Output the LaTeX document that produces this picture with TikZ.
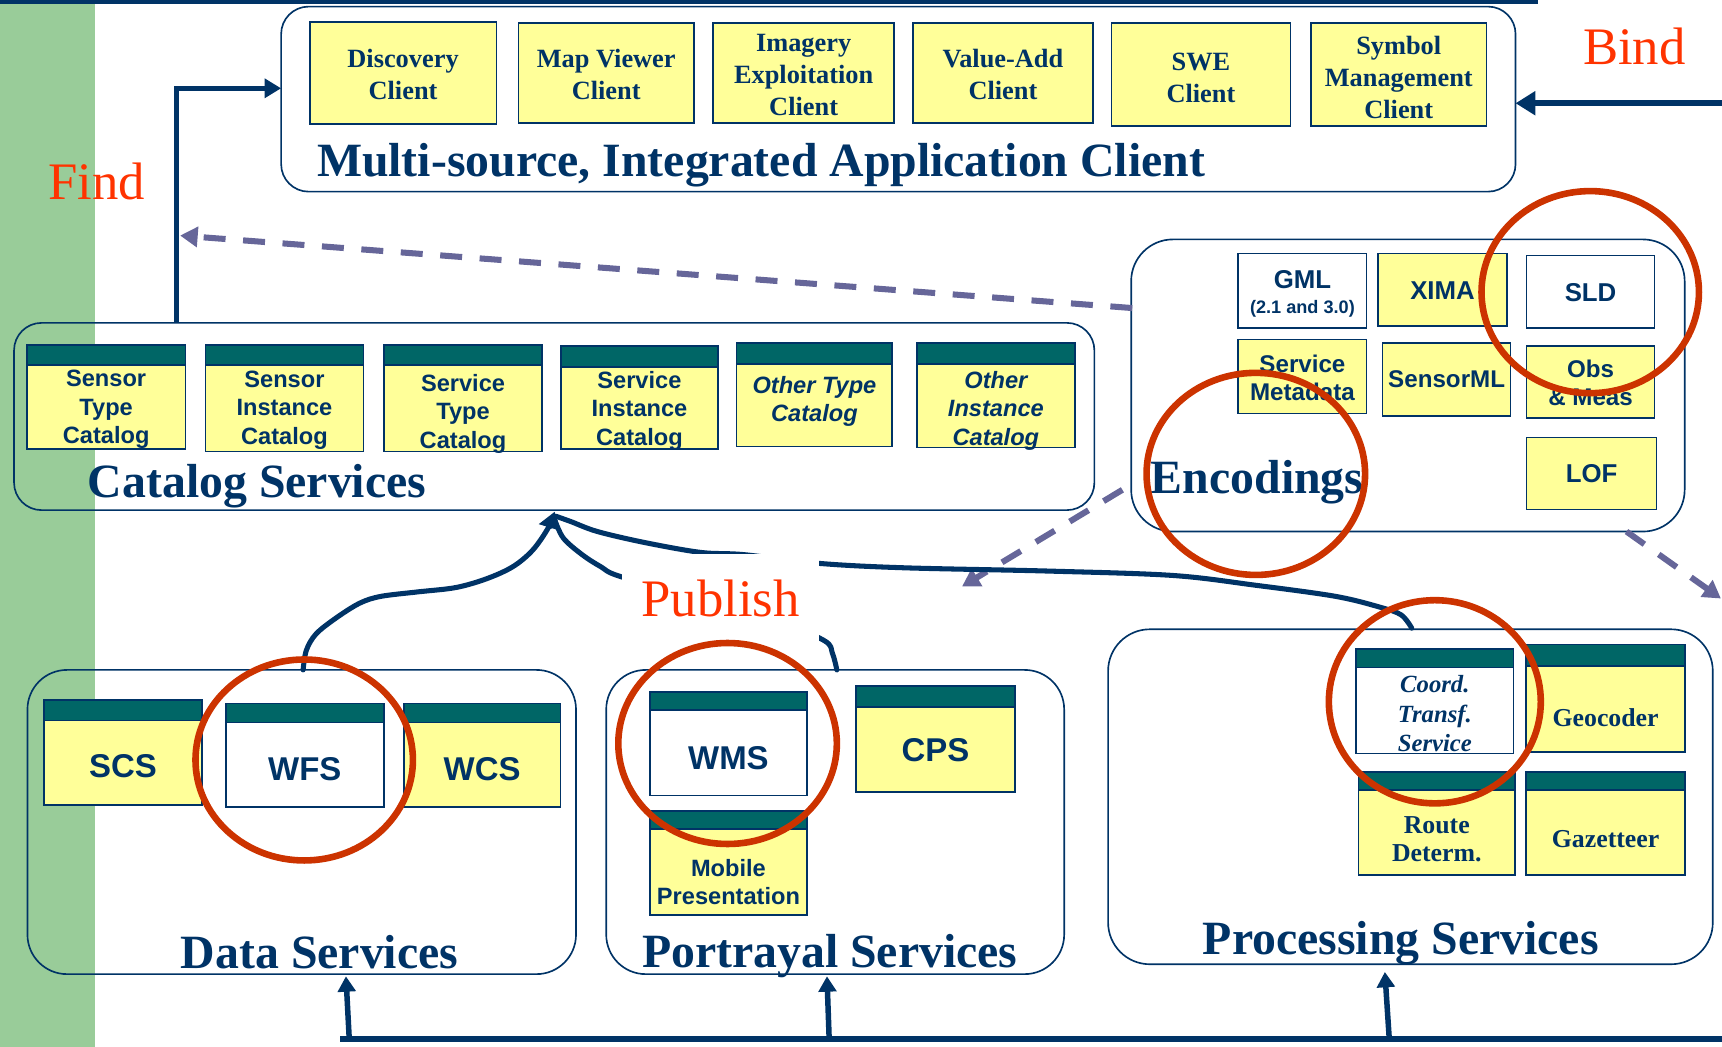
\documentclass[tikz,border=0pt]{standalone}
\usepackage{fontspec}
\setmainfont{Liberation Serif}
\setsansfont{Liberation Sans}
\usetikzlibrary{arrows.meta,calc,shapes.geometric}

\definecolor{navy}{RGB}{0,51,102}
\definecolor{boxyellow}{RGB}{255,255,153}
\definecolor{hdrteal}{RGB}{0,102,102}
\definecolor{stripgreen}{RGB}{153,204,153}
\definecolor{dashpurple}{RGB}{102,102,153}
\definecolor{ringred}{RGB}{204,51,0}
\definecolor{labelred}{RGB}{255,51,0}

\newcommand\fntclient{\fontsize{24}{29}\selectfont\bfseries}
\newcommand\fnttitle{\fontsize{43.5}{48}\selectfont\bfseries}
\newcommand\fntverb{\fontsize{48}{52}\selectfont}
\newcommand\fntcat{\fontsize{21.5}{26}\selectfont\sffamily\bfseries}
\newcommand\fntcatit{\fontsize{21.5}{26}\selectfont\sffamily\bfseries\itshape}
\newcommand\fntbig{\fontsize{30}{34}\selectfont\sffamily\bfseries}
\newcommand\fntenc{\fontsize{22}{25.5}\selectfont\sffamily\bfseries}
\newcommand\fntencbig{\fontsize{23.5}{26}\selectfont\sffamily\bfseries}
\newcommand\fntproc{\fontsize{23.5}{26}\selectfont\bfseries}
\newcommand\fntcoord{\fontsize{22.5}{27}\selectfont\bfseries\itshape}

% box with a teal title bar: name, left, bar top, body top, right, bottom, style, text shift, text
\newcommand\svcbox[9]{%
  \node[hdr, anchor=north west, minimum width={(#5-#2)*1pt}, minimum height={(#4-#3)*1pt}] (#1-hd) at (#2,#3) {};
  \node[#7, anchor=north west, minimum width={(#5-#2)*1pt}, minimum height={(#6-#4)*1pt}] (#1) at (#2,#4) {};
  \node[#7, draw=none, fill=none] (#1-tx) at ($(#1.center)+(0,#8)$) {#9};
}
% plain box: name, left, top, right, bottom, style, text shift, text
\newcommand\plainbox[8]{%
  \node[#6, anchor=north west, minimum width={(#4-#2)*1pt}, minimum height={(#5-#3)*1pt}] (#1) at (#2,#3) {};
  \node[#6, draw=none, fill=none] (#1-tx) at ($(#1.center)+(0,#7)$) {#8};
}

\tikzset{
  every node/.style={inner sep=0pt, outer sep=0pt},
  ybox/.style={draw=navy, line width=1.5pt, fill=boxyellow, text=navy, align=center},
  wbox/.style={ybox, fill=white},
  hdr/.style={draw=navy, line width=1.5pt, fill=hdrteal},
  container/.style={draw=navy, line width=1.5pt, anchor=north west},
  title/.style={text=navy, font=\fnttitle},
  verb/.style={text=labelred, font=\fntverb},
  navyline/.style={draw=navy, line width=4.5pt},
  pubcurve/.style={draw=navy, line width=4.6pt, line cap=round, line join=round},
  dasharrow/.style={draw=dashpurple, line width=5.5pt, dash pattern=on 20pt off 16pt,
    -{Triangle[length=16pt,width=18pt]}},
  busarrow/.style={draw=navy, line width=5pt, -{Triangle[length=14pt,width=16pt]}},
  ring/.style={ellipse, draw=ringred, line width=6pt},
}

\begin{document}
\begin{tikzpicture}[x=1pt, y=-1pt]
\useasboundingbox (0,0) rectangle (1568,953);

% side strip and top rule
\fill[stripgreen] (0,0) rectangle (86.5,953);
\fill[navy] (0,0) rectangle (1400,4);

% group frames
\node[container, rounded corners=25pt, minimum width=1124pt, minimum height=168.5pt] (clients) at (256,6) {};
\node[container, rounded corners=25pt, minimum width=983.7pt, minimum height=170.5pt] (catalogs) at (12.8,294) {};
\node[container, rounded corners=38pt, minimum width=504pt, minimum height=266pt] (encodings) at (1030,218) {};
\node[container, rounded corners=36pt, minimum width=499.5pt, minimum height=277pt] (datasvc) at (25,610) {};
\node[container, rounded corners=36pt, minimum width=417pt, minimum height=277pt] (portrayal) at (552,610) {};
\node[container, rounded corners=38pt, minimum width=550.6pt, minimum height=305pt] (processing) at (1009,573) {};

% clients
\plainbox{discovery}{282}{20}{452}{113}{ybox,font=\fntclient}{1}{Discovery\\Client}
\plainbox{mapviewer}{472}{21}{632}{112}{ybox,font=\fntclient}{1}{Map Viewer\\Client}
\plainbox{imagery}{649.5}{21}{814}{112}{ybox,font=\fntclient}{1.5}{Imagery\\Exploitation\\Client}
\plainbox{valueadd}{831.5}{21}{995}{112}{ybox,font=\fntclient}{1.5}{Value-Add\\Client}
\plainbox{swe}{1012}{21}{1175}{114.5}{ybox,font=\fntclient}{3}{SWE\\Client}
\plainbox{symbol}{1193.6}{21}{1353.7}{114.5}{ybox,font=\fntclient}{3}{Symbol\\Management\\Client}

% catalogs
\svcbox{senstype}{24.3}{314}{332.4}{169}{409}{ybox,font=\fntcat}{2}{Sensor\\Type\\Catalog}
\svcbox{sensinst}{187}{314}{332.4}{331}{411}{ybox,font=\fntcat}{1.5}{Sensor\\Instance\\Catalog}
\svcbox{servtype}{349.4}{314}{332.4}{493.8}{411}{ybox,font=\fntcat}{5}{Service\\Type\\Catalog}
\svcbox{servinst}{511}{315}{334}{653.5}{409}{ybox,font=\fntcat}{2.5}{Service\\Instance\\Catalog}
\svcbox{othertype}{670.7}{312.6}{331.5}{812.5}{406.7}{ybox,font=\fntcatit}{-3.5}{Other Type\\Catalog}
\svcbox{otherinst}{835}{312.6}{331.5}{978.6}{407.6}{ybox,font=\fntcatit}{4.5}{Other\\Instance\\Catalog}

% encodings
\plainbox{gml}{1127.5}{230.7}{1244.4}{298.4}{wbox,font=\fntencbig}{3}{GML\\[-3pt]{\fontsize{16.5}{19}\selectfont(2.1 and 3.0)}}
\plainbox{xima}{1255}{230.7}{1372}{296.9}{ybox,font=\fntencbig}{1}{XIMA}
\plainbox{sld}{1390}{232.8}{1506.6}{298.4}{wbox,font=\fntencbig}{1}{SLD}
\plainbox{srvmeta}{1127.5}{309}{1244.4}{376.4}{ybox,font=\fntenc}{1}{Service\\Metadata}
\plainbox{sensorml}{1259}{312.6}{1375.5}{378.5}{ybox,font=\fntenc}{0}{SensorML}
\plainbox{obsmeas}{1390}{314.8}{1506.6}{380.4}{ybox,font=\fntenc}{1}{Obs\\\& Meas}
\plainbox{lof}{1390}{398.5}{1508.4}{463.8}{ybox,font=\fntencbig}{0}{LOF}

% data services
\svcbox{scs}{40}{637.5}{656}{184}{733}{ybox,font=\fntbig}{3}{SCS}
\svcbox{wfs}{205.6}{640.5}{658}{349.5}{735}{wbox,font=\fntbig}{4}{WFS}
\svcbox{wcs}{367.6}{640.5}{658}{510.5}{735}{ybox,font=\fntbig}{4}{WCS}

% portrayal services
\svcbox{wms}{592}{630}{646.5}{734.6}{724.5}{wbox,font=\fntbig}{5}{WMS}
\svcbox{cps}{779.5}{624.4}{643.5}{924.3}{721}{ybox,font=\fntbig}{1}{CPS}
\svcbox{mobile}{592}{738.5}{755}{734.6}{833}{ybox,font=\fntcat}{9}{Mobile\\Presentation}

% processing services
\svcbox{coord}{1235}{591}{607.7}{1378}{686}{wbox,font=\fntcoord}{3}{Coord.\\Transf.\\Service}
\svcbox{geocoder}{1389.7}{587}{606.5}{1534.3}{684.5}{ybox,font=\fntproc}{8}{Geocoder}
\svcbox{route}{1237}{702.7}{719.4}{1379.6}{796.8}{ybox,font=\fntproc}{6}{Route\\Determ.}
\svcbox{gazetteer}{1389.7}{702.7}{719.4}{1534.3}{796.8}{ybox,font=\fntproc}{6}{Gazetteer}

% group titles
\node[title, anchor=base west] (clienttitle) at (288.7,161) {Multi-source, Integrated Application Client};
\node[title, anchor=base west] (catalogtitle) at (80,453) {Catalog Services};
\node[title, anchor=base west] (enctitle) at (1048,449) {Encodings};
\node[title, anchor=base] (datatitle) at (291,882) {Data Services};
\node[title, anchor=base] (portrtitle) at (755.5,881) {Portrayal Services};
\node[title, anchor=base] (proctitle) at (1275.5,869) {Processing Services};

% find / bind
\coordinate (findfoot) at ($(catalogs.north west)+(147.7,0)$);
\coordinate (findhead) at ($(clients.north west)+(0,74.4)$);
\draw[navyline, -{Triangle[length=15pt,width=17pt]}] (findfoot) |- (findhead);
\coordinate (bindtail) at (1570,94);
\draw[navyline, line width=5.5pt, -{Triangle[length=18pt,width=21pt]}] (bindtail) -- (clients.east |- bindtail);

% encodings references
\coordinate (dashA) at ($(encodings.north west)+(1,62.5)$);
\coordinate (dashAend) at (164,214.5);
\draw[dasharrow] (dashA) -- (dashAend);
\coordinate (dashB) at (1022,446);
\coordinate (dashBend) at (876,534);
\draw[dasharrow] (dashB) -- (dashBend);
\coordinate (dashC) at (1481,484);
\coordinate (dashCend) at (1567,545);
\draw[dasharrow] (dashC) -- (dashCend);

% publish links
\coordinate (pubtip) at (505,466);
\coordinate (wfsfoot) at (276,610);
\coordinate (portfoot) at (762,610);
\coordinate (procfoot) at (1285.5,572);
\draw[pubcurve, -{Triangle[length=15pt,width=20pt]}] plot[smooth, tension=0.55] coordinates {(wfsfoot) (279,592) (288,577) (307,562) (328,549) (347,543) (380,539) (415,535) (443,527) (467,516) (485,501) (499,481) (pubtip)};
\draw[pubcurve] plot[smooth, tension=0.55] coordinates {(portfoot) (758,595) (750,583) (700,562) (640,546) (565,525) (547,516) (530,505) (513,490) (505,473)};
\draw[pubcurve] plot[smooth, tension=0.55] coordinates {(procfoot) (1276,560) (1257,553) (1216,543) (1144,533) (1068,524) (955,520) (823,517) (746,513) (677,505) (638,503) (587,494) (544,484) (520,475) (506,470)};

% bottom bus
\coordinate (busW) at (310,946);
\coordinate (busE) at (1570,946);
\draw[navy, line width=6pt] (busW) -- (busE);
\coordinate (busD) at (318,946);
\coordinate (busP) at (755,946);
\coordinate (busR) at (1265,946);
\draw[busarrow] (busD) -- ($(datasvc.south west)+(290,2)$);
\draw[busarrow] (busP) -- ($(portrayal.south west)+(201,2)$);
\draw[busarrow] (busR) -- ($(processing.south west)+(252,7)$);

% labels
\node[verb, anchor=base west] (find) at (44,181.5) {Find};
\node[verb, anchor=base west] (bind) at (1441.5,59) {Bind};
\node[verb, fill=white, inner xsep=18pt, inner ysep=24pt, anchor=base] (publish) at (656,561.5) {Publish};

% highlight rings
\node[ring, minimum width=198pt, minimum height=184pt] (ringsld) at (1448,266) {};
\node[ring, minimum width=199pt, minimum height=184pt] (ringenc) at (1143.5,431.5) {};
\node[ring, minimum width=198pt, minimum height=183pt] (ringwfs) at (277,692) {};
\node[ring, minimum width=199pt, minimum height=183pt] (ringwms) at (662.5,677) {};
\node[ring, minimum width=193pt, minimum height=185pt] (ringcoord) at (1306.5,639) {};
\end{tikzpicture}
\end{document}
